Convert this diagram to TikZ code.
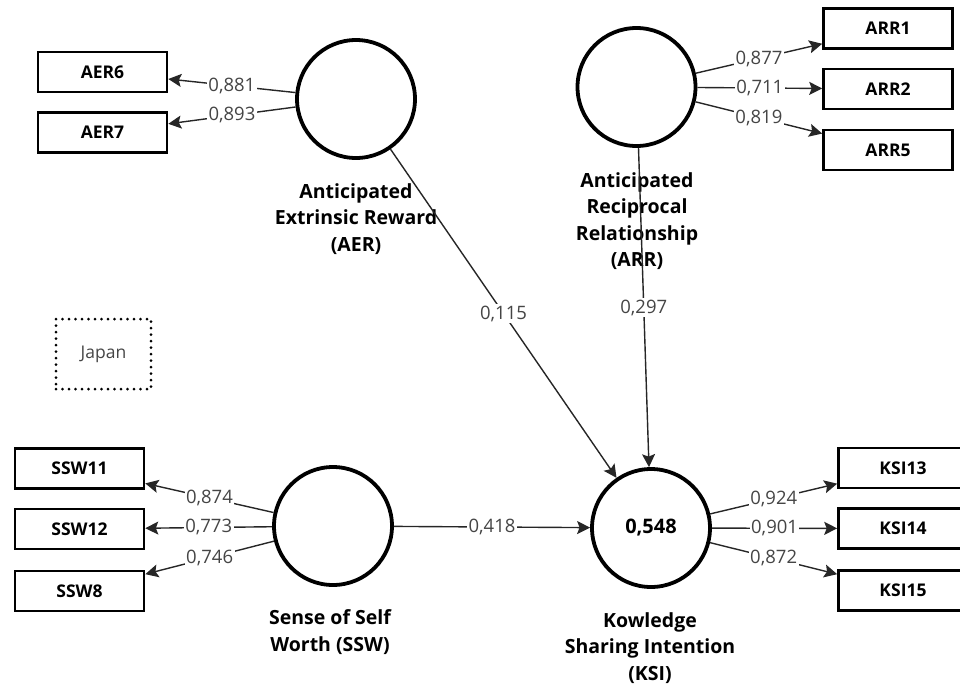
\documentclass[tikz,border=0pt]{standalone}
\usepackage{fontspec}
\setmainfont{Open Sans}
\usetikzlibrary{arrows.meta}
\definecolor{numgray}{HTML}{454545}
\begin{document}
\begin{tikzpicture}[x=1pt,y=-1pt,
  lv/.style={circle,draw,line width=3.8pt,minimum size=118pt,inner sep=0pt,font=\bfseries\fontsize{20}{24}\selectfont},
  mv/.style={rectangle,draw,line width=2.6pt,minimum width=129pt,minimum height=40pt,inner sep=0pt,font=\bfseries\fontsize{17.5}{20}\selectfont},
  lvlabel/.style={align=center,font=\bfseries\fontsize{19.5}{26.5}\selectfont,inner sep=0pt},
  conn/.style={line width=1.4pt,draw=black!85,-{Stealth[length=13pt,width=13pt,inset=2.5pt]}},
  num/.style={fill=white,text=numgray,font=\fontsize{18.5}{22}\selectfont,inner sep=1.5pt}
]
\useasboundingbox (0,0) rectangle (960,686);

% latent variables
\node[lv] (aer) at (356,99) {};
\node[lv] (arr) at (636.5,87) {};
\node[lv] (ssw) at (333,526) {};
\node[lv] (ksi) at (651,528) {0,548};

% labels of latent variables
\node[lvlabel] (aerl) at (356,219) {Anticipated\\Extrinsic Reward\\(AER)};
\node[lvlabel] (arrl) at (637,221) {Anticipated\\Reciprocal\\Relationship\\(ARR)};
\node[lvlabel] (sswl) at (330,632) {Sense of Self\\Worth (SSW)};
\node[lvlabel] (ksil) at (650,648) {Kowledge\\Sharing Intention\\(KSI)};

% indicators
\node[mv] (aer6) at (102.5,72) {AER6};
\node[mv] (aer7) at (102.5,132.5) {AER7};
\node[mv] (arr1) at (888,28.5) {ARR1};
\node[mv] (arr2) at (888,89) {ARR2};
\node[mv] (arr5) at (888,150) {ARR5};
\node[mv] (ssw11) at (79.5,468.5) {SSW11};
\node[mv] (ssw12) at (79.5,529) {SSW12};
\node[mv] (ssw8) at (79.5,591) {SSW8};
\node[mv] (ksi13) at (903,468) {KSI13};
\node[mv] (ksi14) at (903,528.5) {KSI14};
\node[mv] (ksi15) at (903,590.5) {KSI15};

% group box
\node[draw,line width=3pt,line cap=round,dash pattern=on 0pt off 6.5pt,minimum width=95pt,minimum height=70pt,font=\fontsize{17.5}{20}\selectfont,text=numgray] (japan) at (103.5,354) {Japan};

% outer loadings
\draw[conn] (aer) -- node[num] {0,881} (aer6);
\draw[conn] (aer) -- node[num] {0,893} (aer7);
\draw[conn] (arr) -- node[num] {0,877} (arr1);
\draw[conn] (arr) -- node[num] {0,711} (arr2);
\draw[conn] (arr) -- node[num] {0,819} (arr5);
\draw[conn] (ssw) -- node[num] {0,874} (ssw11);
\draw[conn] (ssw) -- node[num] {0,773} (ssw12);
\draw[conn] (ssw) -- node[num] {0,746} (ssw8);
\draw[conn] (ksi) -- node[num] {0,924} (ksi13);
\draw[conn] (ksi) -- node[num] {0,901} (ksi14);
\draw[conn] (ksi) -- node[num] {0,872} (ksi15);

% path coefficients
\draw[conn] (aer) -- node[num] {0,115} (ksi);
\draw[conn] (arr) -- node[num] {0,297} (ksi);
\draw[conn] (ssw) -- node[num] {0,418} (ksi);
\end{tikzpicture}
\end{document}
